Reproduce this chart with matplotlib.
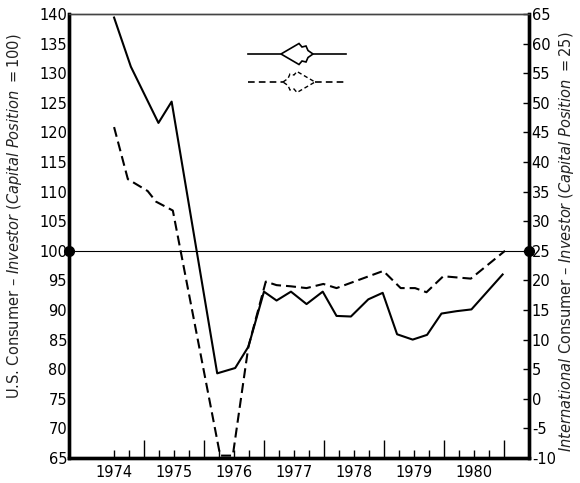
import matplotlib
matplotlib.use("Agg")
import matplotlib.pyplot as plt
from matplotlib.patches import Polygon
import matplotlib.transforms as mtransforms

plt.rcParams['axes.unicode_minus'] = False
plt.rcParams['mathtext.fontset'] = 'dejavusans'

# U.S. series (solid), left axis
us_x = [1974.50, 1974.78, 1975.24, 1975.46, 1976.22, 1976.52, 1976.74, 1977.00,
        1977.21, 1977.45, 1977.71, 1977.98, 1978.21, 1978.45, 1978.74, 1978.98,
        1979.22, 1979.48, 1979.72, 1979.96, 1980.21, 1980.46, 1980.98]
us_y = [139.4, 131.1, 121.6, 125.2, 79.3, 80.2, 83.8, 93.1,
        91.6, 93.1, 91.0, 93.1, 89.0, 88.9, 91.8, 92.9,
        85.9, 85.0, 85.8, 89.4, 89.8, 90.1, 96.0]

# International series (dashed), right axis values
intl_x = [1974.50, 1974.73, 1975.06, 1975.20, 1975.48, 1976.27, 1976.48, 1976.74,
          1977.03, 1977.21, 1977.45, 1977.71, 1977.99, 1978.21, 1978.99, 1979.28,
          1979.52, 1979.71, 1979.99, 1980.22, 1980.45, 1981.02]
intl_y = [45.9, 37.1, 35.1, 33.3, 31.8, -9.6, -9.6, 8.8,
          19.8, 19.2, 19.0, 18.7, 19.4, 18.7, 21.6, 18.7,
          18.7, 18.0, 20.7, 20.5, 20.3, 25.0]

year_labels = ['1974', '1975', '1976', '1977', '1978', '1979', '1980']
year_pos = [1974.5, 1975.5, 1976.5, 1977.5, 1978.5, 1979.5, 1980.5]
left_ticks = list(range(65, 141, 5))
right_ticks = list(range(-10, 66, 5))

fig = plt.figure(figsize=(5.8, 4.83), dpi=100)
ax = fig.add_axes([68.5 / 580, 25 / 483, 460.5 / 580, 444 / 483])
ax2 = ax.twinx()

ax.set_xlim(1973.74, 1981.42)
ax.set_ylim(65, 140)
ax2.set_ylim(-10, 65)

ax.plot(us_x, us_y, color='black', lw=1.5, zorder=3)
ax2.plot(intl_x, intl_y, color='black', lw=1.5, dashes=(4.8, 2.4), zorder=3)

# reference line with dots at both ends
ax.axhline(100, color='black', lw=0.8)
ax.plot([1973.74, 1981.42], [100, 100], 'o', color='black', ms=7,
        clip_on=False, zorder=5)

# spines
for a in (ax, ax2):
    for s in ('left', 'right', 'bottom'):
        a.spines[s].set_linewidth(2.4)
    a.spines['top'].set_linewidth(1.0)
    a.spines['top'].set_color('#444444')

# ticks
ax.set_yticks(left_ticks)
ax.tick_params(axis='y', length=0, pad=1, labelsize=10.5)
ax2.set_yticks(right_ticks)
ax2.tick_params(axis='y', direction='in', length=4, width=1, pad=2, labelsize=10.5)

ax.set_xticks(range(1975, 1982))
ax.set_xticklabels([])
minor = [1974.5 + 0.25 * i for i in range(27) if (1974.5 + 0.25 * i) % 1 != 0]
ax.set_xticks(minor, minor=True)
ax.tick_params(axis='x', which='major', direction='in', length=13, width=1)
ax.tick_params(axis='x', which='minor', direction='in', length=6, width=1)

trans = mtransforms.blended_transform_factory(ax.transData, ax.transAxes)
for p, lab in zip(year_pos, year_labels):
    ax.text(p, -0.032, lab, transform=trans, ha='center', va='center', fontsize=10.5)

# axis titles
fig.text(15 / 580, 1 - 216 / 483,
         r"U.S. Consumer – $\it{Investor\ (Capital\ Position\ =100)}$",
         rotation=90, ha='center', va='center', fontsize=10.5, color='#222222')
fig.text(567 / 580, 1 - 242 / 483,
         r"$\it{International}$ Consumer – $\it{Investor\ (Capital\ Position\ =25)}$",
         rotation=90, ha='center', va='center', fontsize=10.5, color='#222222')

# legend arrows (drawn in pixel-like axes coordinates)
def to_ax(px, py):
    return ((px - 68.5) / 460.5, (458 - py) / 444)

shape = [(32, 0), (27, -3.5), (25, -8), (21, -7), (18, -10.5), (0, 0),
         (18, 10.5), (21, 7), (25, 8), (27, 3.5), (32, 0)]

# solid: arrow pointing left
tip_x, y0 = 281, 54
pts = [to_ax(tip_x + dx, y0 + dy) for dx, dy in shape]
ax.add_patch(Polygon(pts, closed=True, fill=False, ec='black', lw=1.2,
                     transform=ax.transAxes))
ax.plot(*zip(to_ax(248, y0), to_ax(tip_x, y0)), color='black', lw=1.2,
        transform=ax.transAxes)
ax.plot(*zip(to_ax(tip_x + 32, y0), to_ax(346, y0)), color='black', lw=1.2,
        transform=ax.transAxes)

# dashed: arrow pointing right
tip_x, y0 = 315, 82
pts = [to_ax(tip_x - dx, y0 + dy) for dx, dy in shape]
ax.add_patch(Polygon(pts, closed=True, fill=False, ec='black', lw=1.0,
                     ls=(0, (3, 2)), transform=ax.transAxes))
ax.plot(*zip(to_ax(248, y0), to_ax(tip_x - 32, y0)), color='black', lw=1.2,
        dashes=(4, 2.5), transform=ax.transAxes)
ax.plot(*zip(to_ax(tip_x, y0), to_ax(346, y0)), color='black', lw=1.2,
        dashes=(4, 2.5), transform=ax.transAxes)

fig.savefig('out.png', dpi=100)
